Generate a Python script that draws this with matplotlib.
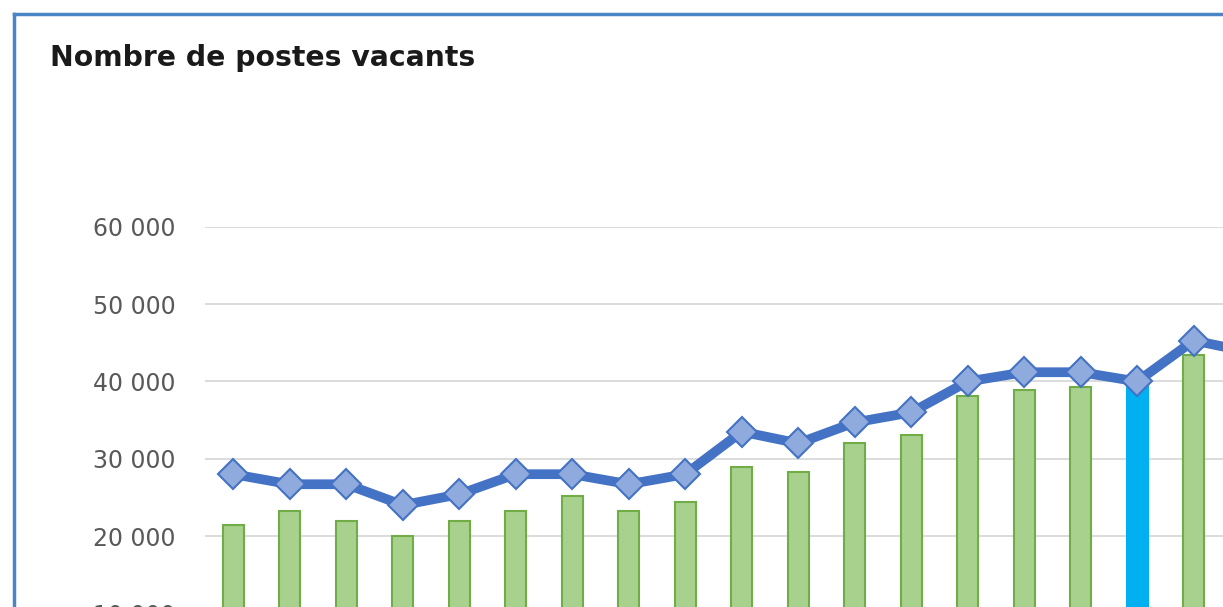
import matplotlib.pyplot as plt
from matplotlib.lines import Line2D
from matplotlib.ticker import FuncFormatter

# Valeurs (postes vacants)
postes_barres = [21400, 23200, 21900, 20000, 21900, 23200, 25200, 23200, 24400, 28900,
                 28300, 32000, 33100, 38100, 38900, 39300, 39500, 43400, 42500]
postes_ligne = [28000, 26700, 26700, 24000, 25400, 28000, 28000, 26700, 28000, 33500,
                32000, 34700, 36000, 40000, 41200, 41200, 40000, 45300, 43800]
barre_en_evidence = 16
graduations = [0, 10000, 20000, 30000, 40000, 50000, 60000]

W, H = 1223, 607
fig = plt.figure(figsize=(W / 100, H / 100), dpi=100)
fig.patch.set_facecolor('white')

# zone de tracé (le graphique original est coupé à droite et en bas)
x0, y_top, y_zero = 205, 227, 690.5
pas = 56.5
ax = fig.add_axes([x0 / W, 1 - y_zero / H, (W - x0) / W, (y_zero - y_top) / H])
ax.set_xlim(-0.5, (W - x0) / pas - 0.5)
ax.set_ylim(0, 60000)

x = list(range(len(postes_barres)))
couleurs = ['#00B0F0' if i == barre_en_evidence else '#A9D18E' for i in x]
bords = ['#00B0F0' if i == barre_en_evidence else '#70AD47' for i in x]
ax.bar(x, postes_barres, width=0.38, color=couleurs, edgecolor=bords, linewidth=1.5, zorder=2)
ax.plot(x, postes_ligne, color='#4472C4', linewidth=7, marker='D', markersize=15,
        markerfacecolor='#8FAADC', markeredgecolor='#4472C4', markeredgewidth=1.5, zorder=3)

ax.set_yticks(graduations)
ax.yaxis.set_major_formatter(FuncFormatter(lambda v, p: f"{int(v):,}".replace(',', ' ')))
ax.tick_params(axis='y', length=0, pad=21, labelsize=17, labelcolor='#595959')
ax.tick_params(axis='x', length=0, labelbottom=False)
for lab in ax.get_yticklabels():
    lab.set_fontfamily('DejaVu Sans')
ax.grid(axis='y', color='#D9D9D9', linewidth=1.3, zorder=0)
ax.set_axisbelow(True)
for s in ax.spines.values():
    s.set_visible(False)

# cadre bleu du graphique
fig.add_artist(Line2D([14 / W, 1], [1 - 14 / H, 1 - 14 / H], color='#4A86C5', linewidth=2.5))
fig.add_artist(Line2D([14 / W, 14 / W], [0, 1 - 14 / H], color='#4A86C5', linewidth=2.5))

fig.text(50 / W, 1 - 58 / H, "Nombre de postes vacants", fontsize=20.3, fontweight='bold',
         family='DejaVu Sans', color='#1a1a1a', va='center', ha='left')

fig.savefig('out.png', dpi=100)
